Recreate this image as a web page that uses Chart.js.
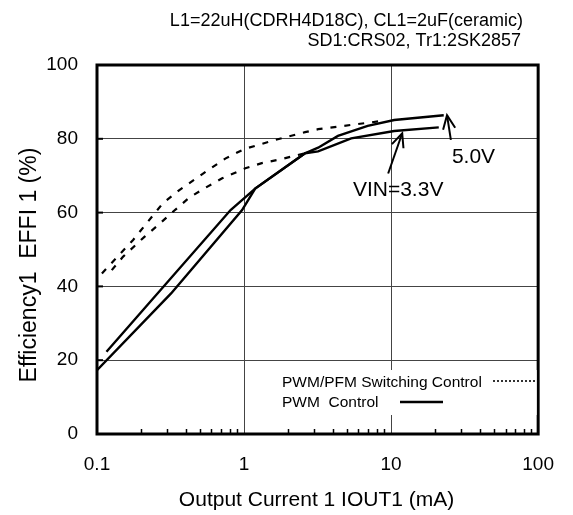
<!DOCTYPE html>
<html>
<head>
<meta charset="utf-8">
<script src="https://cdn.jsdelivr.net/npm/chart.js@4.4.1/dist/chart.umd.min.js"></script>
<style>
  html, body { margin: 0; padding: 0; background: #fff; }
  #wrap { width: 573px; height: 515px; position: relative; }
</style>
</head>
<body>
<div id="wrap"><canvas id="c" width="573" height="515"></canvas></div>
<script>
// ---- data ----
const xTicks = [0.1, 1, 10, 100];
const yTicks = [0, 20, 40, 60, 80, 100];

// PWM control (solid)
const pwm50X = [0.116, 0.81, 1.19, 2.6, 3.19, 4.35, 6.93, 10.5, 22.8];
const pwm50Y = [22.3, 60.7, 66.5, 76.1, 77.6, 80.8, 83.5, 85.1, 86.4];
const pwm33X = [0.1, 0.319, 0.97, 1.19, 2.6, 3.19, 5.35, 10.5, 21.1];
const pwm33Y = [17.3, 38.1, 60.7, 66.5, 76.1, 76.6, 80.1, 82.1, 83.1];

// PWM/PFM switching control (dashed)
const pfm50X = [0.108, 0.176, 0.28, 0.363, 0.55, 0.75, 1.0, 1.63, 2.6, 3.19, 4.35, 8.52];
const pfm50Y = [43.5, 52.6, 62.5, 66.1, 71.1, 74.7, 77.2, 79.7, 81.8, 82.6, 83.3, 84.8];
const pfm33X = [0.126, 0.15, 0.211, 0.253, 0.33, 0.422, 0.55, 0.71, 1.02, 1.32, 1.71, 2.6];
const pfm33Y = [44.4, 48.0, 53.5, 56.2, 60.3, 64.0, 66.8, 69.3, 72.0, 73.4, 74.3, 76.1];

const headerLines = ["L1=22uH(CDRH4D18C), CL1=2uF(ceramic)", "SD1:CRS02, Tr1:2SK2857"];
const legendLabels = ["PWM/PFM Switching Control", "PWM  Control"];
const noteLabels = ["5.0V", "VIN=3.3V"];
const xTitle = "Output Current 1 IOUT1 (mA)";
const yTitle = "Efficiency1  EFFI 1 (%)";

const FONT = "'Liberation Sans', Arial, Helvetica, sans-serif";

function pts(xs, ys) { return xs.map((v, i) => ({ x: v, y: ys[i] })); }

function line(ctx, x1, y1, x2, y2) {
  ctx.beginPath(); ctx.moveTo(x1, y1); ctx.lineTo(x2, y2); ctx.stroke();
}
function arrow(ctx, bx, by, tx, ty) {
  line(ctx, bx, by, tx, ty);
  const ang = Math.atan2(ty - by, tx - bx);
  const L = 15, spread = 0.42;
  ctx.beginPath();
  ctx.moveTo(tx - L * Math.cos(ang - spread), ty - L * Math.sin(ang - spread));
  ctx.lineTo(tx, ty);
  ctx.lineTo(tx - L * Math.cos(ang + spread), ty - L * Math.sin(ang + spread));
  ctx.stroke();
}

const overlay = {
  id: 'overlay',
  beforeDraw(chart) {
    const ctx = chart.ctx;
    ctx.save();
    ctx.fillStyle = '#fff';
    ctx.fillRect(0, 0, chart.width, chart.height);
    ctx.restore();
  },
  afterDatasetsDraw(chart) {
    const { ctx, chartArea: a, scales: { x, y } } = chart;
    ctx.save();
    ctx.strokeStyle = '#000';
    ctx.fillStyle = '#000';

    // minor ticks on x axis (inward)
    ctx.lineWidth = 1.5;
    [0.1, 1, 10].forEach(d => {
      for (let k = 2; k <= 9; k++) {
        const px = Math.round(x.getPixelForValue(d * k)) + 0.5;
        line(ctx, px, a.bottom, px, a.bottom - 5);
      }
    });
    // y major tick stubs (inward)
    ctx.lineWidth = 2;
    yTicks.slice(1, -1).forEach(v => {
      const py = y.getPixelForValue(v);
      line(ctx, a.left, py, a.left + 6, py);
    });

    // plot frame
    ctx.lineWidth = 3;
    ctx.strokeRect(a.left, a.top, a.right - a.left, a.bottom - a.top);

    // legend (white box inside plot)
    ctx.fillStyle = '#fff';
    ctx.fillRect(276, 370, a.right - 1.5 - 276, 45);
    ctx.fillStyle = '#000';
    ctx.font = "15.5px " + FONT;
    ctx.textAlign = 'left';
    ctx.textBaseline = 'middle';
    ctx.fillText(legendLabels[0], 282, 383);
    ctx.fillText(legendLabels[1], 282, 403);
    ctx.lineWidth = 1.6;
    ctx.setLineDash([2, 2]);
    line(ctx, 493, 381, 536, 381);
    ctx.setLineDash([]);
    ctx.lineWidth = 2.4;
    line(ctx, 400, 402, 443, 402);

    // annotations (positions in data units)
    ctx.lineWidth = 2;
    arrow(ctx, x.getPixelForValue(25.5), y.getPixelForValue(79.7),
               x.getPixelForValue(24.0), y.getPixelForValue(86.4));
    arrow(ctx, x.getPixelForValue(9.55), y.getPixelForValue(70.6),
               x.getPixelForValue(11.9), y.getPixelForValue(81.5));
    ctx.font = "21px " + FONT;
    ctx.textAlign = 'left';
    ctx.textBaseline = 'middle';
    ctx.fillText(noteLabels[0], x.getPixelForValue(25.9), y.getPixelForValue(74.9));
    ctx.fillText(noteLabels[1], x.getPixelForValue(5.5), y.getPixelForValue(66.0));

    // header
    ctx.font = "18px " + FONT;
    ctx.textAlign = 'right';
    ctx.textBaseline = 'alphabetic';
    ctx.fillText(headerLines[0], 523, 26);
    ctx.fillText(headerLines[1], 521, 46);

    // axis titles
    ctx.font = "21px " + FONT;
    ctx.textAlign = 'center';
    ctx.textBaseline = 'middle';
    ctx.fillText(xTitle, (a.left + a.right) / 2 - 1, 500);
    ctx.save();
    ctx.translate(30, 265);
    ctx.rotate(-Math.PI / 2);
    ctx.font = "23px " + FONT;
    ctx.fillText(yTitle, 0, 0);
    ctx.restore();

    ctx.restore();
  }
};

const solid = { borderColor: '#000', borderWidth: 2.4, pointRadius: 0, tension: 0, fill: false };
const dashed = { borderColor: '#000', borderWidth: 2.2, borderDash: [6, 8], pointRadius: 0, tension: 0, fill: false };

new Chart(document.getElementById('c'), {
  type: 'line',
  data: {
    datasets: [
      Object.assign({ label: 'PWM 5.0V', data: pts(pwm50X, pwm50Y) }, solid),
      Object.assign({ label: 'PWM 3.3V', data: pts(pwm33X, pwm33Y) }, solid),
      Object.assign({ label: 'PWM/PFM 5.0V', data: pts(pfm50X, pfm50Y) }, dashed),
      Object.assign({ label: 'PWM/PFM 3.3V', data: pts(pfm33X, pfm33Y) }, dashed)
    ]
  },
  options: {
    responsive: false,
    animation: false,
    devicePixelRatio: 1,
    layout: { padding: { left: 0, top: 65, right: 30, bottom: 0 } },
    plugins: { legend: { display: false }, tooltip: { enabled: false }, title: { display: false } },
    scales: {
      x: {
        type: 'logarithmic',
        min: 0.1, max: 100,
        afterBuildTicks: s => { s.ticks = xTicks.map(v => ({ value: v })); },
        afterFit: s => { s.height = 81; },
        ticks: {
          autoSkip: false, maxRotation: 0, padding: 19,
          color: '#000', font: { family: FONT, size: 19 },
          callback: v => String(v)
        },
        grid: { color: '#444', lineWidth: 1, drawTicks: false },
        border: { display: false }
      },
      y: {
        min: 0, max: 100,
        afterBuildTicks: s => { s.ticks = yTicks.map(v => ({ value: v })); },
        afterFit: s => { s.width = 97; },
        ticks: {
          padding: 19, color: '#000', font: { family: FONT, size: 19 },
          callback: v => String(v)
        },
        grid: { color: '#444', lineWidth: 1, drawTicks: false },
        border: { display: false }
      }
    }
  },
  plugins: [overlay]
});
</script>
</body>
</html>
